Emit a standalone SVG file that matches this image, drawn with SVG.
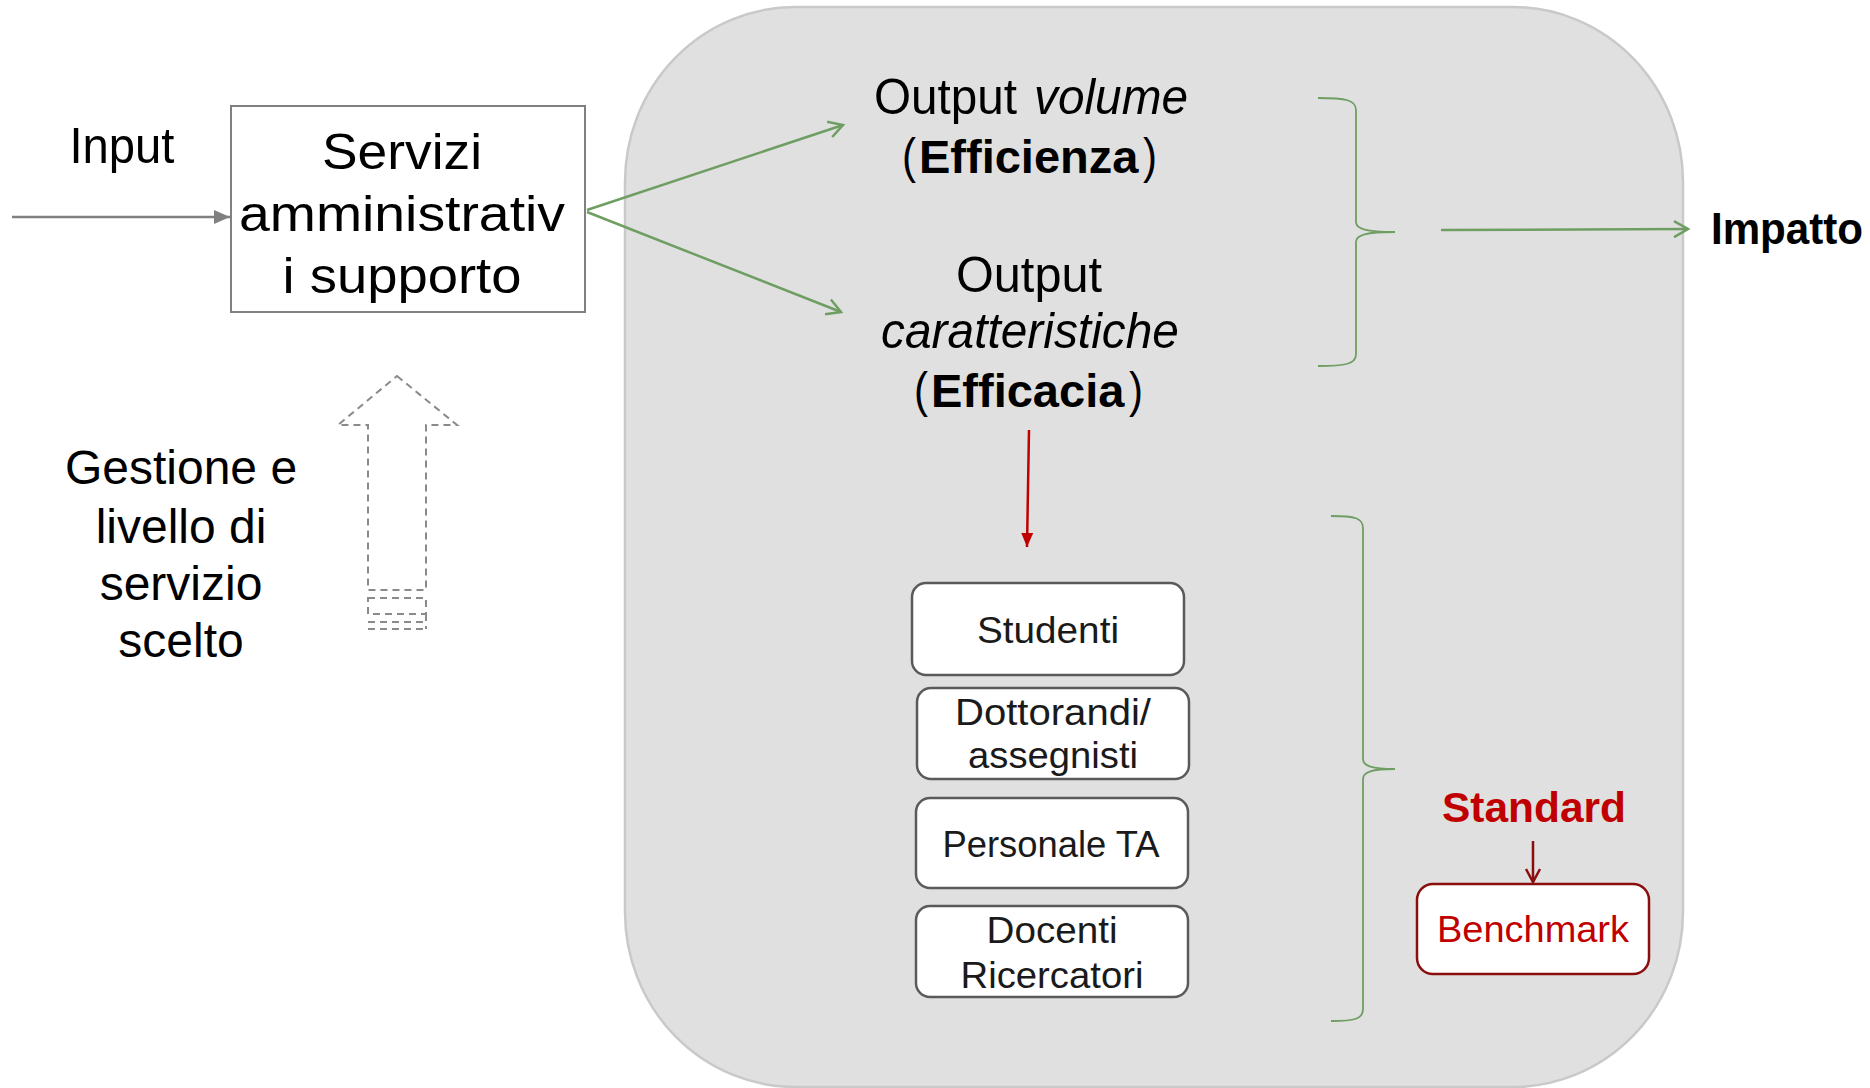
<svg xmlns="http://www.w3.org/2000/svg" width="1870" height="1088" viewBox="0 0 1870 1088">
<style>
  text { font-family: "Liberation Sans", Arial, sans-serif; fill: #000; }
  .big { font-size: 50px; text-anchor: middle; }
  .bigl { font-size: 50px; }
  .lbl { font-size: 37px; text-anchor: middle; fill: #1a1a1a; }
  .card { fill: #fff; stroke: #5a5a5a; stroke-width: 2.5; }
  .green { stroke: #6e9e62; stroke-width: 2.5; fill: none; }
  .brace { stroke: #6e9e62; stroke-width: 1.8; fill: none; }
</style>
<defs>
  <marker id="openG" markerUnits="userSpaceOnUse" markerWidth="20" markerHeight="20" refX="16" refY="10" orient="auto">
    <path d="M2,2 L16,10 L2,18" fill="none" stroke="#6e9e62" stroke-width="2.5"/>
  </marker>
  <marker id="openR" markerUnits="userSpaceOnUse" markerWidth="20" markerHeight="20" refX="16" refY="10" orient="auto">
    <path d="M3,3 L16,10 L3,17" fill="none" stroke="#8b0e0e" stroke-width="2.5"/>
  </marker>
  <marker id="triGray" markerUnits="userSpaceOnUse" markerWidth="18" markerHeight="16" refX="16" refY="8" orient="auto">
    <path d="M0,1 L16,8 L0,15 Z" fill="#808080"/>
  </marker>
  <marker id="triRed" markerUnits="userSpaceOnUse" markerWidth="16" markerHeight="14" refX="14" refY="7" orient="auto">
    <path d="M0,1 L14,7 L0,13 Z" fill="#c00000"/>
  </marker>
</defs>

<rect width="1870" height="1088" fill="#fff"/>

<g id="panel">
  <rect x="625" y="7" width="1058" height="1080" rx="170" ry="175" fill="#e0e0e0" stroke="#c9c9c9" stroke-width="2.5"/>
</g>

<g id="input-label">
  <text class="big" x="122" y="163" textLength="105" lengthAdjust="spacingAndGlyphs">Input</text>
</g>

<g id="servizi">
  <rect x="231" y="106" width="354" height="206" fill="#fff" stroke="#808080" stroke-width="2"/>
  <text class="big" x="402" y="169" font-size="52" textLength="160" lengthAdjust="spacingAndGlyphs" fill="#1a1a1a">Servizi</text>
  <text class="big" x="402" y="231" font-size="52" textLength="326" lengthAdjust="spacingAndGlyphs" fill="#1a1a1a">amministrativ</text>
  <text class="big" x="402" y="293" font-size="52" textLength="239" lengthAdjust="spacingAndGlyphs" fill="#1a1a1a">i supporto</text>
</g>

<g id="gestione">
  <path d="M397,376 L457,425 L426,425 L426,590 L368,590 L368,425 L338,425 Z" fill="none" stroke="#8a8a8a" stroke-width="2" stroke-dasharray="7,5"/>
  <rect x="368" y="598" width="58" height="16" fill="none" stroke="#8a8a8a" stroke-width="2" stroke-dasharray="7,5"/>
  <path d="M368,622 L426,622 M368,629 L426,629 M426,614 L426,629" fill="none" stroke="#8a8a8a" stroke-width="2" stroke-dasharray="7,5"/>
  <text x="181" y="484" font-size="48" text-anchor="middle">Gestione e</text>
  <text x="181" y="543" font-size="48" text-anchor="middle">livello di</text>
  <text x="181" y="600" font-size="48" text-anchor="middle">servizio</text>
  <text x="181" y="657" font-size="48" text-anchor="middle">scelto</text>
</g>

<g id="output-volume">
  <text class="bigl" x="874" y="114" textLength="143" lengthAdjust="spacingAndGlyphs">Output</text>
  <text class="bigl" x="1034" y="114" font-style="italic" textLength="154" lengthAdjust="spacingAndGlyphs">volume</text>
  <text class="bigl" x="902" y="173" textLength="14" lengthAdjust="spacingAndGlyphs">(</text>
  <text x="919" y="173" font-size="47" font-weight="bold">Efficienza</text>
  <text class="bigl" x="1143" y="173" textLength="14" lengthAdjust="spacingAndGlyphs">)</text>
</g>

<g id="output-caratteristiche">
  <text class="big" x="1029" y="292" textLength="146" lengthAdjust="spacingAndGlyphs">Output</text>
  <text class="big" x="1030" y="348" font-style="italic" textLength="298" lengthAdjust="spacingAndGlyphs">caratteristiche</text>
  <text class="bigl" x="914" y="407" textLength="14" lengthAdjust="spacingAndGlyphs">(</text>
  <text x="931" y="407" font-size="47" font-weight="bold">Efficacia</text>
  <text class="bigl" x="1129" y="407" textLength="14" lengthAdjust="spacingAndGlyphs">)</text>
</g>

<g id="impatto">
  <text x="1711" y="244" font-size="44" font-weight="bold" textLength="152" lengthAdjust="spacingAndGlyphs">Impatto</text>
</g>

<g id="studenti">
  <rect class="card" x="912" y="583" width="272" height="92" rx="14"/>
  <text class="lbl" x="1048" y="643" textLength="142" lengthAdjust="spacingAndGlyphs">Studenti</text>
</g>
<g id="dottorandi">
  <rect class="card" x="917" y="688" width="272" height="91" rx="14"/>
  <text class="lbl" x="1053" y="725" textLength="196" lengthAdjust="spacingAndGlyphs">Dottorandi/</text>
  <text class="lbl" x="1053" y="768" textLength="170" lengthAdjust="spacingAndGlyphs">assegnisti</text>
</g>
<g id="personale">
  <rect class="card" x="916" y="798" width="272" height="90" rx="14"/>
  <text class="lbl" x="1051" y="857" textLength="217" lengthAdjust="spacingAndGlyphs">Personale TA</text>
</g>
<g id="docenti">
  <rect class="card" x="916" y="906" width="272" height="91" rx="14"/>
  <text class="lbl" x="1052" y="943" textLength="131" lengthAdjust="spacingAndGlyphs">Docenti</text>
  <text class="lbl" x="1052" y="988" textLength="183" lengthAdjust="spacingAndGlyphs">Ricercatori</text>
</g>

<g id="standard">
  <text x="1534" y="822" font-size="42" font-weight="bold" text-anchor="middle" style="fill:#c00000" textLength="184" lengthAdjust="spacingAndGlyphs">Standard</text>
</g>
<g id="benchmark">
  <rect x="1417" y="884" width="232" height="90" rx="16" fill="#fff" stroke="#8b0e0e" stroke-width="2.5"/>
  <text x="1533" y="942" font-size="37" text-anchor="middle" style="fill:#c00000" textLength="192" lengthAdjust="spacingAndGlyphs">Benchmark</text>
</g>

<g id="connectors">
  <line x1="12" y1="217" x2="230" y2="217" stroke="#808080" stroke-width="2.5" marker-end="url(#triGray)"/>
  <line class="green" x1="587" y1="210" x2="843" y2="125" marker-end="url(#openG)"/>
  <line class="green" x1="587" y1="212" x2="841" y2="312" marker-end="url(#openG)"/>
  <line class="green" x1="1441" y1="230" x2="1688" y2="229" marker-end="url(#openG)"/>
  <path class="brace" d="M1318,98 C1346,98 1356,100 1356,110 L1356,222 C1356,229 1366,232 1395,232 C1366,232 1356,235 1356,242 L1356,354 C1356,364 1346,366 1318,366"/>
  <path class="brace" d="M1331,516 C1355,516 1363,518 1363,528 L1363,759 C1363,766 1372,769 1395,769 C1372,769 1363,772 1363,779 L1363,1009 C1363,1019 1355,1021 1331,1021"/>
  <line x1="1029" y1="430" x2="1027" y2="547" stroke="#c00000" stroke-width="2.5" marker-end="url(#triRed)"/>
  <line x1="1533" y1="841" x2="1533" y2="882" stroke="#8b0e0e" stroke-width="2.5" marker-end="url(#openR)"/>
</g>
</svg>
